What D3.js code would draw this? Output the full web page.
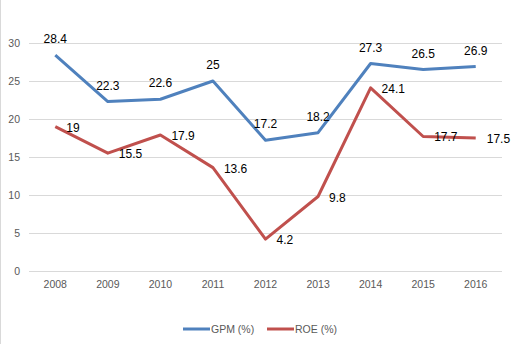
<!DOCTYPE html>
<html><head><meta charset="utf-8">
<script src="https://cdn.jsdelivr.net/npm/d3@7"></script>
<style>body{margin:0;background:#fff}svg{display:block}</style>
</head><body><svg id="c" width="513" height="350"></svg>
<script>
const years = ["2008","2009","2010","2011","2012","2013","2014","2015","2016"];
const gpm = [28.4,22.3,22.6,25,17.2,18.2,27.3,26.5,26.9];
const roe = [19,15.5,17.9,13.6,4.2,9.8,24.1,17.7,17.5];
const yTicks = [0,5,10,15,20,25,30];
const seriesNames = ["GPM (%)","ROE (%)"];
const colors = ["#4F81BD","#C0504D"];

const svg = d3.select("#c");
const font = "'Liberation Sans', Arial, sans-serif";
svg.append("line").attr("x1",0.5).attr("x2",0.5).attr("y1",0).attr("y2",344)
  .attr("stroke","#D9D9D9");

const x = d3.scaleBand().domain(years).range([29,502]);
const y = d3.scaleLinear().domain([0,30]).range([271,43]);

// gridlines
svg.append("g").selectAll("line").data(yTicks).join("line")
  .attr("x1",29).attr("x2",502).attr("y1",d=>y(d)).attr("y2",d=>y(d))
  .attr("stroke","#D9D9D9").attr("stroke-width",1).attr("shape-rendering","crispEdges");

const yAxis = svg.append("g").attr("transform","translate(29,0)")
  .call(d3.axisLeft(y).tickValues(yTicks).tickSize(0).tickPadding(9));
yAxis.select(".domain").remove();
yAxis.selectAll("text").attr("font-family",font).attr("font-size","10.5px").attr("fill","#595959");

const xAxis = svg.append("g").attr("transform","translate(0,271)")
  .call(d3.axisBottom(x).tickSize(0).tickPadding(10));
xAxis.select(".domain").remove();
xAxis.selectAll("text").attr("font-family",font).attr("font-size","10.5px").attr("fill","#595959");

const cx = d => x(d) + x.bandwidth()/2;
const line = d3.line().x((d,i)=>cx(years[i])).y(d=>y(d));

[gpm,roe].forEach((s,k)=>{
  svg.append("path").datum(s).attr("d",line).attr("fill","none")
    .attr("stroke",colors[k]).attr("stroke-width",3).attr("stroke-linejoin","round");
});

// labels
svg.append("g").selectAll("text").data(gpm).join("text")
  .attr("x",(d,i)=>cx(years[i])).attr("y",d=>y(d)-12)
  .attr("text-anchor","middle").attr("font-family",font).attr("font-size","12px").attr("fill","#000")
  .text(d=>d);
svg.append("g").selectAll("text").data(roe).join("text")
  .attr("x",(d,i)=>cx(years[i])+11).attr("y",d=>y(d)+5)
  .attr("text-anchor","start").attr("font-family",font).attr("font-size","12px").attr("fill","#000")
  .text(d=>d);

// legend
const leg = [{x:183},{x:267}];
leg.forEach((l,k)=>{
  svg.append("line").attr("x1",l.x).attr("x2",l.x+27).attr("y1",329).attr("y2",329)
    .attr("stroke",colors[k]).attr("stroke-width",3);
  svg.append("text").attr("x",l.x+28).attr("y",333).attr("font-family",font)
    .attr("font-size","10.5px").attr("fill","#595959").text(seriesNames[k]);
});
</script></body></html>
